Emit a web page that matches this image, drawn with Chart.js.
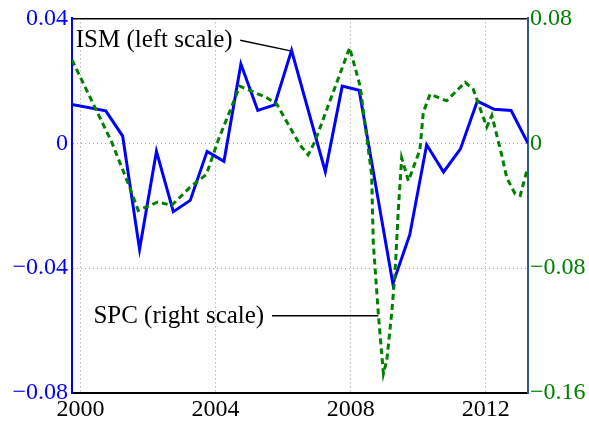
<!DOCTYPE html>
<html>
<head>
<meta charset="utf-8">
<script src="https://cdn.jsdelivr.net/npm/chart.js@4"></script>
<style>
html,body{margin:0;padding:0;background:#fff;}
canvas{display:block;}
</style>
</head>
<body>
<canvas id="c" width="589" height="427"></canvas>
<script>
// ISM (left scale), semi-annual
const ismYears = [1999.75, 2000.75, 2001.25, 2001.75, 2002.25, 2002.75, 2003.25, 2003.75, 2004.25, 2004.75, 2005.25, 2005.75, 2006.25, 2007.25, 2007.75, 2008.25, 2009.25, 2009.75, 2010.25, 2010.75, 2011.25, 2011.75, 2012.25, 2012.75, 2013.25];
const ismValues = [0.0124, 0.0104, 0.0023, -0.0340, -0.0026, -0.0219, -0.0183, -0.0026, -0.0058, 0.0254, 0.0105, 0.0123, 0.0298, -0.0091, 0.0183, 0.0170, -0.0450, -0.0293, -0.0005, -0.0092, -0.0018, 0.0135, 0.0109, 0.0105, 0.0000];

// SPC (right scale)
const spcYears = [1999.75, 2000.92, 2001.46, 2001.71, 2002.29, 2002.70, 2003.24, 2003.73, 2004.08, 2004.72, 2005.51, 2005.81, 2006.50, 2006.74, 2006.94, 2007.97, 2008.28, 2008.62, 2008.67, 2008.82, 2008.97, 2009.07, 2009.21, 2009.31, 2009.41, 2009.51, 2009.71, 2010.05, 2010.15, 2010.35, 2010.84, 2011.39, 2011.63, 2012.03, 2012.18, 2012.47, 2012.62, 2012.87, 2013.02, 2013.24];
const spcValues = [0.0534, 0.0010, -0.0283, -0.0430, -0.0376, -0.0398, -0.0283, -0.0199, 0.0021, 0.0366, 0.0293, 0.0251, -0.0011, -0.0074, 0.0010, 0.0612, 0.0366, -0.0200, -0.0639, -0.1097, -0.1476, -0.1390, -0.1097, -0.0843, -0.0430, -0.0094, -0.0241, -0.0042, 0.0198, 0.0314, 0.0272, 0.0391, 0.0345, 0.0104, 0.0178, -0.0073, -0.0220, -0.0325, -0.0335, -0.0157];

const xTicks = [2000, 2004, 2008, 2012];
const leftTicks = [-0.08, -0.04, 0, 0.04];
const leftTickLabels = ['\u22120.08', '\u22120.04', '0', '0.04'];
const rightTicks = [-0.16, -0.08, 0, 0.08];
const rightTickLabels = ['\u22120.16', '\u22120.08', '0', '0.08'];

const FONT = 'Liberation Serif';
Chart.defaults.font.family = FONT;

const annotations = {
  id: 'annotations',
  afterDatasetsDraw(chart) {
    const {ctx, scales} = chart;
    const x = scales.x, yl = scales.y, yr = scales.y2;
    ctx.save();
    ctx.font = '25px "Liberation Serif"';
    ctx.fillStyle = '#000';
    ctx.textBaseline = 'middle';
    ctx.textAlign = 'left';
    ctx.fillText('ISM (left scale)', x.getPixelForValue(1999.86), yl.getPixelForValue(0.0331));
    ctx.strokeStyle = '#000';
    ctx.lineWidth = 1.5;
    ctx.beginPath();
    ctx.moveTo(x.getPixelForValue(2004.73), yl.getPixelForValue(0.0330));
    ctx.lineTo(x.getPixelForValue(2006.22), yl.getPixelForValue(0.0296));
    ctx.stroke();
    ctx.textAlign = 'right';
    ctx.fillText('SPC (right scale)', x.getPixelForValue(2005.44), yr.getPixelForValue(-0.1110));
    ctx.beginPath();
    ctx.moveTo(x.getPixelForValue(2005.67), yr.getPixelForValue(-0.1105));
    ctx.lineTo(x.getPixelForValue(2008.82), yr.getPixelForValue(-0.1105));
    ctx.stroke();
    ctx.restore();
  }
};

const whiteBg = {
  id: 'whiteBg',
  beforeDraw(chart) {
    const {ctx} = chart;
    ctx.save();
    ctx.fillStyle = '#fff';
    ctx.fillRect(0, 0, chart.width, chart.height);
    ctx.restore();
  }
};

new Chart(document.getElementById('c'), {
  type: 'line',
  data: {
    datasets: [
      {
        label: 'ISM',
        data: ismYears.map((v, i) => ({x: v, y: ismValues[i]})),
        yAxisID: 'y', xAxisID: 'x',
        borderColor: '#0000ff', borderWidth: 3, pointRadius: 0, tension: 0, fill: false, order: 2
      },
      {
        label: 'SPC',
        data: spcYears.map((v, i) => ({x: v, y: spcValues[i]})),
        yAxisID: 'y2', xAxisID: 'x',
        borderColor: '#008000', borderWidth: 3, borderDash: [6, 4], pointRadius: 0, tension: 0, fill: false, order: 1
      }
    ]
  },
  options: {
    responsive: false,
    animation: false,
    devicePixelRatio: 1,
    layout: {padding: {top: 11, left: 0, right: 0, bottom: 0}},
    plugins: {legend: {display: false}, tooltip: {enabled: false}},
    scales: {
      x: {
        type: 'linear', position: 'bottom', min: 1999.75, max: 2013.25,
        afterBuildTicks: s => { s.ticks = xTicks.map(v => ({value: v})); },
        afterFit: s => { s.height = 34; },
        ticks: {color: '#000', font: {size: 24, family: FONT}, padding: 2, maxRotation: 0, autoSkip: false, callback: v => String(v)},
        grid: {color: '#999', lineWidth: 1, drawTicks: false, tickLength: 0},
        border: {color: '#000', width: 2, dash: [1, 3]}
      },
      xTop: {
        type: 'linear', position: 'top', min: 1999.75, max: 2013.25,
        afterFit: s => { s.height = 0; },
        ticks: {display: false},
        grid: {display: false, drawTicks: false},
        border: {color: '#000', width: 1.5}
      },
      y: {
        type: 'linear', position: 'left', min: -0.08, max: 0.04,
        afterBuildTicks: s => { s.ticks = leftTicks.map(v => ({value: v})); },
        afterFit: s => { s.width = 72; },
        ticks: {color: '#0000ff', font: {size: 24, family: FONT}, padding: 4, callback: (v, i) => leftTickLabels[i]},
        grid: {color: '#8fb0d8', lineWidth: 1, drawTicks: false, tickLength: 0},
        border: {color: '#0000ff', width: 2, dash: [1, 3]}
      },
      y2: {
        type: 'linear', position: 'right', min: -0.16, max: 0.08,
        afterBuildTicks: s => { s.ticks = rightTicks.map(v => ({value: v})); },
        afterFit: s => { s.width = 61; },
        ticks: {color: '#008000', font: {size: 24, family: FONT}, padding: 2, callback: (v, i) => rightTickLabels[i]},
        grid: {display: false, drawOnChartArea: false, drawTicks: false},
        border: {color: '#2a5d8a', width: 2}
      }
    }
  },
  plugins: [whiteBg, annotations]
});
</script>
</body>
</html>
